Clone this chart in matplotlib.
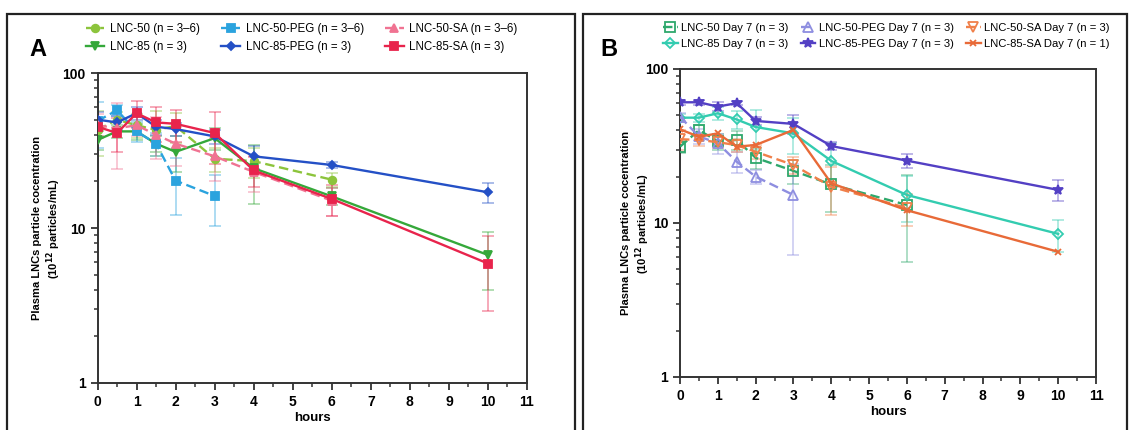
import numpy as np
import matplotlib
matplotlib.use("Agg")
import matplotlib.pyplot as plt
from matplotlib.patches import Rectangle
from matplotlib.ticker import LogLocator, MultipleLocator, NullFormatter, FixedLocator

plt.rcParams['font.family'] = ['Liberation Sans', 'DejaVu Sans']

# ---- panel A data (hours, 10^12 particles/mL, SD) ----
t_long = [0, 0.5, 1, 1.5, 2, 3, 4, 6, 10]
t_mid = [0, 0.5, 1, 1.5, 2, 3, 4, 6]
t_short = [0, 0.5, 1, 1.5, 2, 3]

a_lnc50 = [43, 50, 46, 43, 45.5, 28, 27, 20.5]
a_lnc50_err = [14, 6, 8, 14, 10, 5, 6, 2]
a_lnc85 = [37, 42, 42, 35, 31, 38, 24.3, 16, 6.7]
a_lnc85_err = [5, 4, 5, 4, 8, 6, 10, 2, 2.7]
a_peg50 = [49, 57.5, 42, 35, 20.2, 16.1]
a_peg50_err = [16, 5, 6, 6, 8, 5.8]
a_peg85 = [50, 48, 55, 45, 43.5, 39, 29, 25.5, 17]
a_peg85_err = [6, 5, 5, 5, 4, 4, 5, 1, 2.5]
a_sa50 = [46, 44, 46, 40, 35, 29, 23, 15]
a_sa50_err = [8, 20, 7, 12, 10, 9, 6, 3]
a_sa85 = [45, 41, 55, 48, 47, 41, 23.5, 15.4, 5.9]
a_sa85_err = [6, 10, 11, 12, 11, 15, 5, 3.5, 3]

# ---- panel B data (day 7) ----
b_lnc50 = [31.3, 40, 34, 34.6, 26.5, 21.8, 17.8, 13.1]
b_lnc50_err = [3, 3, 4, 5, 4, 4, 6, 7.5]
b_lnc85 = [48.3, 48.3, 51.6, 47, 42, 38.2, 25.3, 15.2, 8.5]
b_lnc85_err = [3, 3, 5, 6, 12, 10, 8, 5, 2]
b_peg50 = [49, 36.5, 33, 25, 20, 15.2]
b_peg50_err = [3, 4, 5, 4, 2, 9]
b_peg85 = [60.8, 60.8, 57, 60, 46, 44, 31.6, 25.4, 16.4]
b_peg85_err = [2, 2, 4, 2, 3, 6, 2, 2.5, 2.5]
b_sa50 = [35, 34.6, 33.5, 32, 29, 23.8, 17.2, 12.5]
b_sa50_err = [5, 3, 3, 3, 3, 3, 6, 3]
b_sa85 = [40.6, 36.3, 38.2, 31.3, 32.1, 40.2, 18.1, 12.1, 6.5]

fig = plt.figure(figsize=(11.3, 4.3), dpi=100)
W, H = 1130, 430

# panel frames
fig.patches.append(Rectangle((7 / W, -0.05), (575 - 7) / W, 1.05 - 14 / H, transform=fig.transFigure,
                             fill=False, lw=1.6, ec='#222222'))
fig.patches.append(Rectangle((583 / W, -0.05), (1127 - 583) / W, 1.05 - 14 / H, transform=fig.transFigure,
                             fill=False, lw=1.6, ec='#222222'))

axA = fig.add_axes([97.5 / W, 1 - 383 / H, (527 - 97.5) / W, (383 - 73) / H])
axB = fig.add_axes([680 / W, 1 - 377 / H, (1096 - 680) / W, (377 - 69) / H])


def series(ax, t, y, err, color, marker, ls, label, mfc=None, ms=5.5):
    if err is not None:
        ax.errorbar(t, y, yerr=err, fmt='none', ecolor=color, alpha=0.45, elinewidth=1.2,
                    capsize=4, capthick=1.2, zorder=2)
    ax.plot(t, y, color=color, marker=marker, ls=ls, lw=1.7, ms=ms, label=label,
            mfc=color if mfc is None else mfc, mec=color, mew=1.3, zorder=3,
            dashes=(4, 2) if ls == '--' else (None, None))


series(axA, t_mid, a_lnc50, a_lnc50_err, '#8cc43c', 'o', '--', 'LNC-50 (n = 3–6)')
series(axA, t_long, a_lnc85, a_lnc85_err, '#35a83a', 'v', '-', 'LNC-85 (n = 3)')
series(axA, t_short, a_peg50, a_peg50_err, '#2ba3de', 's', '--', 'LNC-50-PEG (n = 3–6)')
series(axA, t_long, a_peg85, a_peg85_err, '#2450c6', 'D', '-', 'LNC-85-PEG (n = 3)', ms=4.5)
series(axA, t_mid, a_sa50, a_sa50_err, '#f07392', '^', '--', 'LNC-50-SA (n = 3–6)')
series(axA, t_long, a_sa85, a_sa85_err, '#e8244c', 's', '-', 'LNC-85-SA (n = 3)')

series(axB, t_mid, b_lnc50, b_lnc50_err, '#2ea86c', 's', '--', 'LNC-50 Day 7 (n = 3)', mfc='none', ms=6.5)
series(axB, t_long, b_lnc85, b_lnc85_err, '#33ccb0', 'D', '-', 'LNC-85 Day 7 (n = 3)', mfc='none', ms=5)
series(axB, t_short, b_peg50, b_peg50_err, '#8e8ee0', '^', '--', 'LNC-50-PEG Day 7 (n = 3)', mfc='none', ms=6.5)
series(axB, t_long, b_peg85, b_peg85_err, '#5340c4', '*', '-', 'LNC-85-PEG Day 7 (n = 3)', ms=7)
series(axB, t_mid, b_sa50, b_sa50_err, '#f0804a', 'v', '--', 'LNC-50-SA Day 7 (n = 3)', mfc='none', ms=6.5)
series(axB, t_long, b_sa85, None, '#e86a38', 'x', '-', 'LNC-85-SA Day 7 (n = 1)', ms=4)

ylabel = 'Plasma LNCs particle cocentration\n(10$^{\\mathbf{12}}$ particles/mL)'
for ax, lx in ((axA, -0.080), (axB, -0.067)):
    ax.set_yscale('log')
    ax.set_ylim(1, 100)
    ax.set_xlim(0, 11)
    ax.xaxis.set_major_locator(MultipleLocator(1))
    ax.xaxis.set_minor_locator(MultipleLocator(0.5))
    ax.yaxis.set_major_locator(FixedLocator([1, 10, 100]))
    ax.yaxis.set_minor_locator(LogLocator(base=10, subs=np.arange(2, 10)))
    ax.yaxis.set_minor_formatter(NullFormatter())
    ax.set_yticklabels(['1', '10', '100'])
    for s in ax.spines.values():
        s.set_linewidth(1.4)
        s.set_color('#333333')
    ax.tick_params(which='major', direction='out', length=5, width=1.3, color='#333333',
                   labelsize=10)
    ax.tick_params(which='minor', direction='out', length=3, width=1.1, color='#333333')
    for lab in ax.get_xticklabels() + ax.get_yticklabels():
        lab.set_fontweight('bold')
    ax.set_xlabel('hours', fontsize=9.5, fontweight='bold', labelpad=2)
    ax.set_ylabel(ylabel, fontsize=8, fontweight='bold')
    ax.yaxis.set_label_coords(lx, 0.5)

fig.text(38 / W, 1 - 49 / H, 'A', fontsize=17, fontweight='bold', va='center', ha='center')
fig.text(609 / W, 1 - 49 / H, 'B', fontsize=17, fontweight='bold', va='center', ha='center')

hA, lA = axA.get_legend_handles_labels()
fig.legend(hA, lA, ncol=3, loc='upper left', bbox_to_anchor=(86 / W, 1 - 23 / H), frameon=False,
           fontsize=8.3, handlelength=1.6, handletextpad=0.5, columnspacing=1.85, labelspacing=0.5,
           borderpad=0, borderaxespad=0)
hB, lB = axB.get_legend_handles_labels()
fig.legend(hB, lB, ncol=3, loc='upper left', bbox_to_anchor=(663 / W, 1 - 23 / H), frameon=False,
           fontsize=8.1, handlelength=1.3, handletextpad=0.3, columnspacing=1.1, labelspacing=0.55,
           borderpad=0, borderaxespad=0)

fig.savefig('out.png', dpi=100)
